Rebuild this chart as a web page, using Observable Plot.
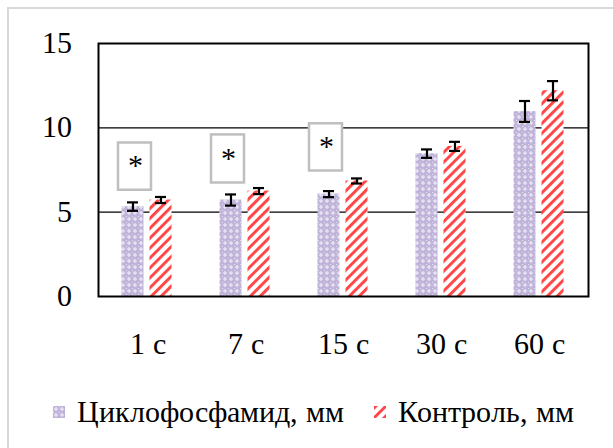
<!DOCTYPE html>
<html>
<head>
<meta charset="utf-8">
<style>
  @font-face { font-family: "RefSerif"; src: local("Liberation Serif"), local("LiberationSerif"), local("LiberationSerif-Regular"), local("Times New Roman"), local("Tinos"); font-display: swap; }
</style>
<script>
  if (document.fonts && document.fonts.load) { document.fonts.load('30px "RefSerif"', "Циклофосфамид 15 с"); }
</script>
<script src="https://cdn.jsdelivr.net/npm/d3@7"></script>
<script src="https://cdn.jsdelivr.net/npm/@observablehq/plot@0.6"></script>
<style>
  html, body { margin: 0; padding: 0; background: #fff; }
  #wrap { position: relative; width: 613px; height: 448px; overflow: hidden; background: #fff; }
  #outer { position: absolute; left: 7px; top: 7px; width: 700px; height: 600px; border-left: 2px solid #d9d9d9; border-top: 2px solid #d9d9d9; }
  #chart { position: absolute; left: 0; top: 0; }
  #legend { position: absolute; left: 0; top: 370px; width: 613px; height: 78px; font-family: "RefSerif", "Liberation Serif", "Times New Roman", Tinos, serif; font-size: 30px; line-height: 30px; color: #000; }
  .item { position: absolute; top: 27px; display: flex; align-items: center; white-space: nowrap; }
  .item svg { margin-right: 12px; flex: none; }
</style>
</head>
<body>
<div id="wrap">
  <div id="outer"></div>
  <div id="chart"></div>
  <div id="legend"></div>
</div>
<script>
// ---- data ----
const categories = ["1 с", "7 с", "15 с", "30 с", "60 с"];
const seriesNames = ["Циклофосфамид, мм", "Контроль, мм"];
const cycloValues = [5.33, 5.72, 6.07, 8.47, 10.97];
const cycloErrors = [0.25, 0.33, 0.18, 0.25, 0.62];
const controlValues = [5.72, 6.25, 6.85, 8.90, 12.20];
const controlErrors = [0.18, 0.18, 0.15, 0.27, 0.57];
const yTicks = [0, 5, 10, 15];
const gridValues = [5, 10];
const sigCategories = ["1 с", "7 с", "15 с"];
const sigLow = [6.3, 6.73, 7.44];
const sigHigh = [9.1, 9.58, 10.24];
const sigLabels = ["*", "*", "*"];

const cyclo = categories.map((c, i) => ({cat: c, v: cycloValues[i], e: cycloErrors[i]}));
const control = categories.map((c, i) => ({cat: c, v: controlValues[i], e: controlErrors[i]}));
const sig = sigCategories.map((c, i) => ({cat: c, lo: sigLow[i], hi: sigHigh[i], t: sigLabels[i]}));

const FONT = '"RefSerif", "Liberation Serif", "Times New Roman", Tinos, serif';

const patternDefs = (suffix) => `
  <pattern id="pc${suffix}" width="6" height="6" patternUnits="userSpaceOnUse">
    <rect width="6" height="6" fill="#bfb3da"/>
    <path d="M3 0.8 L5.2 3 L3 5.2 L0.8 3 Z" fill="#e6e0f1"/>
    <rect x="0" y="0" width="1" height="1" fill="#e6e0f1"/>
  </pattern>
  <pattern id="pr${suffix}" width="7" height="7" patternUnits="userSpaceOnUse" patternTransform="rotate(45)">
    <rect width="7" height="7" fill="#fff"/>
    <rect width="2.9" height="7" fill="#ff4444"/>
  </pattern>`;

const defsMark = () => {
  const g = document.createElementNS("http://www.w3.org/2000/svg", "defs");
  g.innerHTML = patternDefs("");
  return g;
};

// per-box horizontal shift (style)
const boxDx = [5, 0, 0];
const boxMarks = sig.map((d, i) => [
  Plot.barY([d], {x: "cat", y1: "lo", y2: "hi", insetLeft: 15 + boxDx[i], insetRight: 50 - boxDx[i], fill: "#fff", stroke: "#bfbfbf", strokeWidth: 2.5}),
  Plot.text([d], {x: "cat", y: (r) => (r.lo + r.hi) / 2, text: "t", dx: -17.5 + boxDx[i], fontSize: 30, fill: "#000", fontFamily: FONT})
]).flat();

const chart = Plot.plot({
  width: 613,
  height: 370,
  marginLeft: 98,
  marginRight: 25,
  marginTop: 43,
  marginBottom: 74,
  style: {fontFamily: FONT, fontSize: "30px", color: "#000", background: "transparent", overflow: "visible"},
  x: {domain: categories, padding: 0, label: null, tickSize: 0, tickPadding: 36},
  y: {domain: [0, 15], ticks: yTicks, label: null, tickSize: 0, tickPadding: 27},
  marks: [
    defsMark,
    Plot.ruleY(gridValues, {stroke: "#000", strokeWidth: 1.2}),
    Plot.barY(cyclo, {x: "cat", y: "v", insetLeft: 23.5, insetRight: 52.5, fill: "url(#pc)"}),
    Plot.barY(control, {x: "cat", y: "v", insetLeft: 51.5, insetRight: 24.5, fill: "url(#pr)"}),
    ...boxMarks,
    Plot.ruleX(cyclo, {x: "cat", y1: (d) => d.v - d.e, y2: (d) => d.v + d.e, dx: -14.5, stroke: "#000", strokeWidth: 2.2}),
    Plot.tickY(cyclo, {x: "cat", y: (d) => d.v - d.e, insetLeft: 29, insetRight: 58, stroke: "#000", strokeWidth: 2.2}),
    Plot.tickY(cyclo, {x: "cat", y: (d) => d.v + d.e, insetLeft: 29, insetRight: 58, stroke: "#000", strokeWidth: 2.2}),
    Plot.ruleX(control, {x: "cat", y1: (d) => d.v - d.e, y2: (d) => d.v + d.e, dx: 13.5, stroke: "#000", strokeWidth: 2.2}),
    Plot.tickY(control, {x: "cat", y: (d) => d.v - d.e, insetLeft: 57, insetRight: 30, stroke: "#000", strokeWidth: 2.2}),
    Plot.tickY(control, {x: "cat", y: (d) => d.v + d.e, insetLeft: 57, insetRight: 30, stroke: "#000", strokeWidth: 2.2}),
    Plot.frame({stroke: "#000", strokeWidth: 2})
  ]
});
document.getElementById("chart").appendChild(chart);

// legend
const legend = document.getElementById("legend");
const legendLeft = [53, 374];
const legendPat = ["pc", "pr"];
seriesNames.forEach((name, i) => {
  const item = document.createElement("div");
  item.className = "item";
  item.style.left = legendLeft[i] + "px";
  item.innerHTML = `<svg width="12" height="12"><defs>${patternDefs("L" + i)}</defs><rect width="12" height="12" fill="url(#${legendPat[i]}L${i})"/></svg><span>${name}</span>`;
  legend.appendChild(item);
});

// re-apply the family once the local serif face has loaded
const variants = [
  '"RefSerif", "Times New Roman", serif',
  '"RefSerif", Tinos, serif',
  '"RefSerif", "Liberation Serif", serif'
];
let vi = 0;
const refont = () => {
  const fam = variants[vi % variants.length];
  vi++;
  document.querySelectorAll("#chart svg text, #legend span").forEach((el) => {
    el.style.fontFamily = fam;
  });
};
if (document.fonts && document.fonts.load) {
  document.fonts.load('30px "RefSerif"', "Циклофосфамид 15 с").then(refont, () => {});
  document.fonts.ready.then(refont);
}
[60, 200, 600].forEach((t) => setTimeout(refont, t));
</script>
</body>
</html>
